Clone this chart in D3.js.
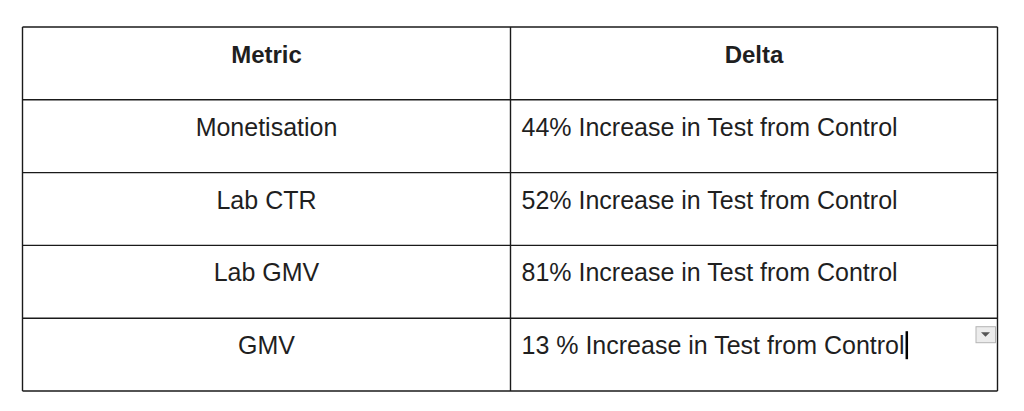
<!DOCTYPE html>
<html>
<head>
<meta charset="utf-8">
<script src="https://cdn.jsdelivr.net/npm/d3@7"></script>
<style>
  body { margin: 0; background: #fff; }
  text { font-family: "Liberation Sans", Arial, sans-serif; fill: #1f1f1f; }
</style>
</head>
<body>
<svg id="table"></svg>
<script>
var width = 1024,
    height = 411

var headers = ["Metric", "Delta"];
var metrics = ["Monetisation", "Lab CTR", "Lab GMV", "GMV"];
var deltas = ["44% Increase in Test from Control",
              "52% Increase in Test from Control",
              "81% Increase in Test from Control",
              "13 % Increase in Test from Control"];

var tLeft = 22.5, tRight = 997.5, tTop = 27, tBottom = 391, tSplit = 510.5;

var svg = d3.select("svg#table")
    .attr("width", width)
    .attr("height", height);

var y = d3.scaleBand()
    .domain(d3.range(metrics.length + 1))
    .range([tTop, tBottom]);

var rows = [headers].concat(metrics.map(function(m, i){ return [m, deltas[i]]; }));

// cell text
var row = svg.selectAll("g.row")
    .data(rows)
    .enter()
    .append("g")
    .attr("class", "row")
    .attr("transform", function(d, i){
        return "translate(0," + y(i) + ")";
    });

row.append("text")
    .attr("x", (tLeft + tSplit) / 2)
    .attr("y", 36)
    .attr("text-anchor", "middle")
    .style("font-size", function(d, i){ return i == 0 ? "24px" : "25px"; })
    .style("font-weight", function(d, i){ return i == 0 ? "bold" : "normal"; })
    .text(function(d){ return d[0]; });

row.append("text")
    .attr("class", "delta")
    .attr("x", function(d, i){ return i == 0 ? (tSplit + tRight) / 2 : tSplit + 11; })
    .attr("y", 36)
    .attr("text-anchor", function(d, i){ return i == 0 ? "middle" : "start"; })
    .style("font-size", function(d, i){ return i == 0 ? "24px" : "25px"; })
    .style("font-weight", function(d, i){ return i == 0 ? "bold" : "normal"; })
    .text(function(d){ return d[1]; });

// grid lines
var hLines = y.domain().map(function(i){ return y(i); }).concat([tBottom]);

svg.selectAll("line.h")
    .data(hLines)
    .enter()
    .append("line")
    .attr("class", "h")
    .attr("x1", tLeft)
    .attr("x2", tRight)
    .attr("y1", function(d){ return d; })
    .attr("y2", function(d){ return d; })
    .attr("stroke", "#1a1a1a")
    .attr("stroke-width", 1.4);

svg.selectAll("line.v")
    .data([tLeft, tSplit, tRight])
    .enter()
    .append("line")
    .attr("class", "v")
    .attr("x1", function(d){ return d; })
    .attr("x2", function(d){ return d; })
    .attr("y1", tTop)
    .attr("y2", tBottom)
    .attr("stroke", "#1a1a1a")
    .attr("stroke-width", 1.4);

// text cursor after last cell
var last = row.filter(function(d, i){ return i == rows.length - 1; });
var bb = last.select("text.delta").node().getBBox();
last.append("rect")
    .attr("x", bb.x + bb.width + 1)
    .attr("y", 13)
    .attr("width", 2.5)
    .attr("height", 28)
    .attr("fill", "#000");

// dropdown toggle in last cell
var dd = last.append("g")
    .attr("transform", "translate(" + (tRight - 22) + ",8)");

dd.append("rect")
    .attr("x", 0.5)
    .attr("y", 0.5)
    .attr("width", 19.5)
    .attr("height", 16)
    .attr("fill", "#ececec")
    .attr("stroke", "#b5b5b5");

dd.append("path")
    .attr("d", "M5.5,6 L14.5,6 L10,10.5 Z")
    .attr("fill", "#555");
</script>
</body>
</html>
